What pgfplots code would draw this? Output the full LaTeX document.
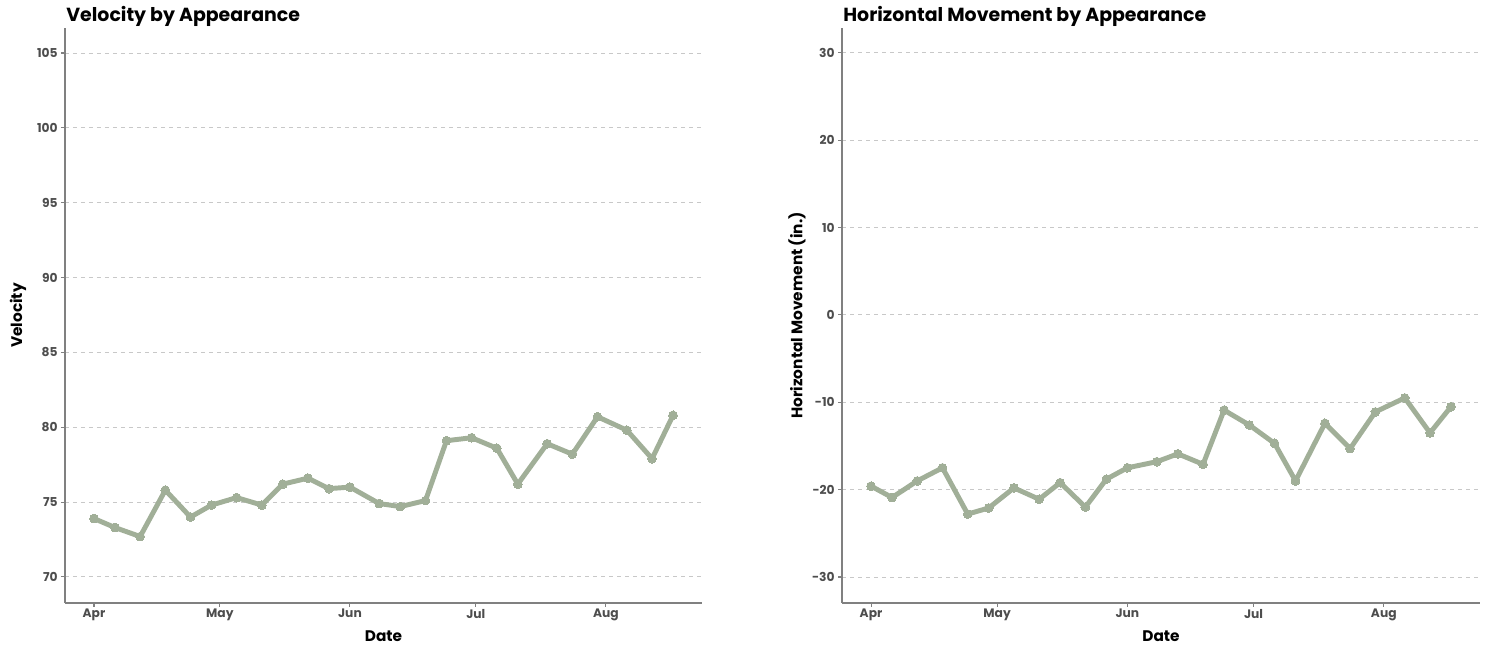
\documentclass[border=0pt]{standalone}
\usepackage{pgfplots}
\pgfplotsset{compat=1.18}
\usepackage{fontspec}
\setmainfont{Poppins}[BoldFont={* Bold}]
\definecolor{sage}{HTML}{A1AF98}
\definecolor{tickgray}{HTML}{4D4D4D}
\definecolor{linegray}{HTML}{808080}
\definecolor{gridgray}{HTML}{C8C8C8}

% days counted from 1 April
\pgfplotstableread{
day vel hmov
0   73.9 -19.6
5   73.3 -20.9
11  72.7 -19.0
17  75.8 -17.5
23  74.0 -22.8
28  74.8 -22.1
34  75.3 -19.8
40  74.8 -21.1
45  76.2 -19.2
51  76.6 -22.0
56  75.9 -18.8
61  76.0 -17.5
68  74.9 -16.8
73  74.7 -15.9
79  75.1 -17.1
84  79.1 -10.9
90  79.3 -12.6
96  78.6 -14.7
101 76.2 -19.0
108 78.9 -12.4
114 78.2 -15.3
120 80.7 -11.1
127 79.8 -9.5
133 77.9 -13.5
138 80.8 -10.5
}\pitches

\pgfplotsset{
  panel/.style={
    scale only axis,
    height=431.25pt,
    xmin=-6.91, xmax=144.9,
    axis x line*=bottom, axis y line*=left,
    axis line style={linegray, line width=0.8pt, -},
    tick style={linegray, line width=0.8pt},
    major tick length=3pt,
    tick align=outside,
    xtick={0,30,61,91,122},
    xticklabels={Apr,May,Jun,Jul,Aug},
    ymajorgrids,
    grid style={gridgray, dash pattern=on 3pt off 3pt, line width=0.7pt},
    tick label style={font=\bfseries\fontsize{9.2}{10}\selectfont, text=tickgray},
    /pgf/number format/assume math mode=true,
    xticklabel style={yshift=2pt},
    yticklabel style={xshift=1pt},
    label style={font=\bfseries\fontsize{11.5}{13}\selectfont},
    xlabel={Date},
    xlabel style={at={(axis description cs:0.5,-0.0574)}, anchor=center},
    title style={at={(axis description cs:0,1)}, anchor=base west, yshift=-1.5pt, xshift=-2.5pt,
      font=\bfseries\fontsize{14.2}{16}\selectfont},
  },
  sageline/.style={sage, line width=3.7pt, mark=*, mark size=3.3pt,
      mark options={fill=sage, draw=sage, line width=0pt}},
}

\begin{document}
\begin{tikzpicture}
\path[use as bounding box] (0pt,0pt) rectangle (1123.5pt,491.25pt);

\begin{axis}[panel,
  at={(48.75pt,39pt)}, anchor=south west,
  width=477.75pt,
  ymin=68.26, ymax=106.67,
  ytick={70,75,80,85,90,95,100,105},
  ylabel={Velocity},
  ylabel style={at={(axis description cs:-0.0738,0.5)}, anchor=center},
  title={Velocity by Appearance},
]
\addplot[sageline] table[x=day, y=vel] {\pitches};
\end{axis}

\begin{axis}[panel,
  at={(631.5pt,39pt)}, anchor=south west,
  width=478.5pt,
  ymin=-32.98, ymax=32.86,
  ytick={-30,-20,-10,0,10,20,30},
  ylabel={Horizontal Movement (in.)},
  ylabel style={at={(axis description cs:-0.0705,0.5)}, anchor=center},
  title={Horizontal Movement by Appearance},
]
\addplot[sageline] table[x=day, y=hmov] {\pitches};
\end{axis}
\end{tikzpicture}
\end{document}
